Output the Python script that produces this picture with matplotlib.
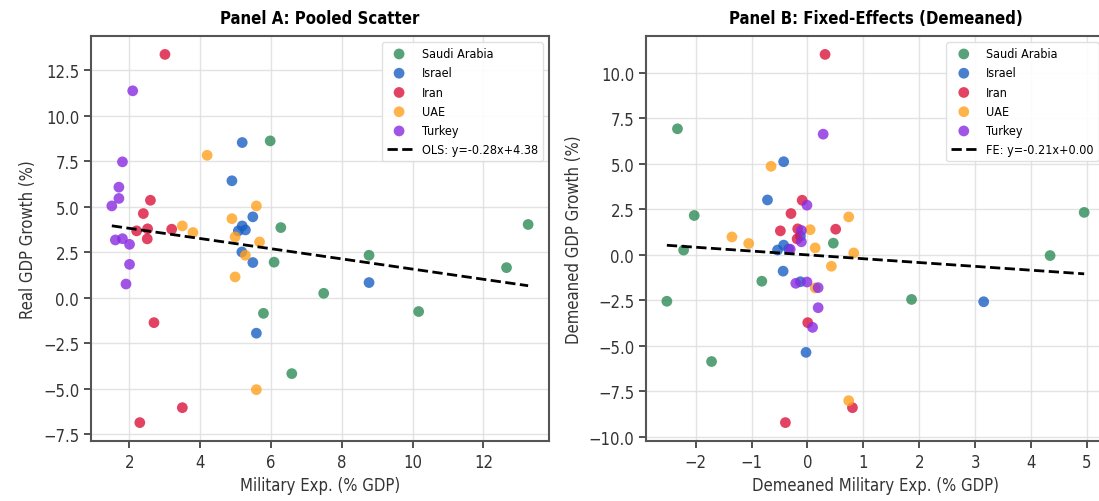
import numpy as np
import matplotlib
matplotlib.use('Agg')
import matplotlib.pyplot as plt

plt.rcParams['font.family'] = ['DejaVu Sans']
plt.rcParams['font.stretch'] = 'condensed'

countries = ['Saudi Arabia', 'Israel', 'Iran', 'UAE', 'Turkey']
colors = ['#2e8b57', '#1a5fc4', '#dc143c', '#ffa01e', '#8a2be2']

# military expenditure (% GDP), one value per year
saudi_mil = [5.98, 6.28, 6.09, 13.26, 8.77, 12.65, 7.49, 10.17, 5.79, 6.59]
israel_mil = [5.19, 4.90, 5.49, 5.19, 5.28, 5.08, 5.18, 5.49, 8.77, 5.59]
iran_mil = [3.01, 2.60, 2.40, 2.21, 2.52, 2.51, 3.20, 2.70, 3.50, 2.30]
uae_mil = [4.20, 5.59, 4.90, 3.50, 3.80, 4.99, 5.68, 5.28, 4.99, 5.59]
turkey_mil = [2.10, 1.81, 1.71, 1.71, 1.51, 1.61, 1.81, 2.01, 2.01, 1.91]

# real GDP growth (%)
saudi_gdp = [8.62, 3.86, 1.96, 4.03, 2.34, 1.66, 0.25, -0.75, -0.85, -4.16]
israel_gdp = [8.53, 6.43, 4.45, 3.95, 3.73, 3.68, 2.52, 1.94, 0.84, -1.94]
iran_gdp = [13.37, 5.36, 4.63, 3.68, 3.79, 3.24, 3.77, -1.36, -6.03, -6.85]
uae_gdp = [7.83, 5.05, 4.35, 3.95, 3.59, 3.35, 3.07, 2.34, 1.15, -5.04]
turkey_gdp = [11.37, 7.47, 6.08, 5.46, 5.05, 3.18, 3.25, 2.94, 1.84, 0.76]

mil = [saudi_mil, israel_mil, iran_mil, uae_mil, turkey_mil]
gdp = [saudi_gdp, israel_gdp, iran_gdp, uae_gdp, turkey_gdp]

# fitted lines as reported in the legends
ols_slope, ols_icpt = -0.28, 4.38
fe_slope, fe_icpt = -0.21, 0.00

fig = plt.figure(figsize=(10.99, 5.02), dpi=100)
ax1 = fig.add_axes([0.0828, 0.1195, 0.4167, 0.8068])
ax2 = fig.add_axes([0.5878, 0.1195, 0.4177, 0.8068])

all_x, all_dx = [], []
for name, c, xs, ys in zip(countries, colors, mil, gdp):
    xs = np.array(xs)
    ys = np.array(ys)
    dx = xs - xs.mean()
    dy = ys - ys.mean()
    all_x.extend(xs)
    all_dx.extend(dx)
    ax1.scatter(xs, ys, s=60, color=c, alpha=0.8, edgecolors='none', label=name)
    ax2.scatter(dx, dy, s=60, color=c, alpha=0.8, edgecolors='none', label=name)

xl = np.array([min(all_x), max(all_x)])
ax1.plot(xl, ols_slope * xl + ols_icpt, 'k--', lw=2,
         label=f'OLS: y={ols_slope:.2f}x+{ols_icpt:.2f}')
xl = np.array([min(all_dx), max(all_dx)])
ax2.plot(xl, fe_slope * xl + fe_icpt, 'k--', lw=2,
         label=f'FE: y={fe_slope:.2f}x+{fe_icpt:.2f}')

ax1.set_title('Panel A: Pooled Scatter', fontsize=12, fontweight='bold', pad=9)
ax1.set_xlabel('Military Exp. (% GDP)', fontsize=12, color='#333333')
ax1.set_ylabel('Real GDP Growth (%)', fontsize=12, color='#333333')
ax2.set_title('Panel B: Fixed-Effects (Demeaned)', fontsize=12, fontweight='bold', pad=9)
ax2.set_xlabel('Demeaned Military Exp. (% GDP)', fontsize=12, color='#333333')
ax2.set_ylabel('Demeaned GDP Growth (%)', fontsize=12, color='#333333')

for ax in (ax1, ax2):
    ax.grid(True, color='#dddddd', lw=1, alpha=0.8)
    ax.set_axisbelow(True)
    for sp in ax.spines.values():
        sp.set_color('#555555')
        sp.set_linewidth(1.5)
    ax.tick_params(labelsize=12, colors='#333333', length=5, width=1.2)
    ax.legend(loc='upper right', fontsize=9, framealpha=0.9, edgecolor='#dddddd')

ax2.set_xticks([-2, -1, 0, 1, 2, 3, 4, 5])

fig.savefig('out.png', dpi=100)
